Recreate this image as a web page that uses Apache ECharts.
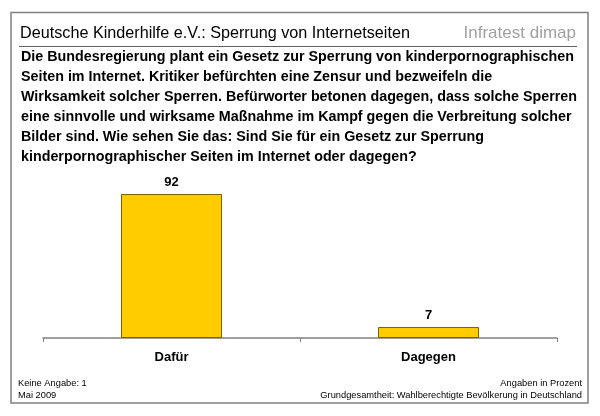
<!DOCTYPE html>
<html><head><meta charset="utf-8">
<script src="https://cdn.jsdelivr.net/npm/echarts@6/dist/echarts.min.js"></script>
<style>html,body{margin:0;padding:0;background:#fff}#c{width:600px;height:416px}</style>
</head><body><div id="c"></div>
<script>
const categories = ['Dafür', 'Dagegen'];
const values = [92, 7];
const title = 'Deutsche Kinderhilfe e.V.: Sperrung von Internetseiten';
const brand = 'Infratest dimap';
const questionLines = [
  'Die Bundesregierung plant ein Gesetz zur Sperrung von kinderpornographischen',
  'Seiten im Internet. Kritiker befürchten eine Zensur und bezweifeln die',
  'Wirksamkeit solcher Sperren. Befürworter betonen dagegen, dass solche Sperren',
  'eine sinnvolle und wirksame Maßnahme im Kampf gegen die Verbreitung solcher',
  'Bilder sind. Wie sehen Sie das: Sind Sie für ein Gesetz zur Sperrung',
  'kinderpornographischer Seiten im Internet oder dagegen?'
];
const footLeft = ['Keine Angabe: 1', 'Mai 2009'];
const footRight = ['Angaben in Prozent', 'Grundgesamtheit: Wahlberechtigte Bevölkerung in Deutschland'];

const chart = echarts.init(document.getElementById('c'), null, {renderer: 'canvas'});
const font = 'Arial, "Liberation Sans", sans-serif';
const graphics = [
  {type: 'rect', shape: {x: 11, y: 12.5, width: 577, height: 390.5}, style: {fill: 'none', stroke: '#808080', lineWidth: 1.5}, z: 10},
  {type: 'text', left: 20, top: 26, style: {text: title, font: '16.2px ' + font, fill: '#000'}},
  {type: 'text', right: 24, top: 25, style: {text: brand, font: '17px "Liberation Sans Narrow", "Arial Narrow", sans-serif', fill: '#a0a0a0'}},
  {type: 'line', shape: {x1: 19, y1: 46.5, x2: 577, y2: 46.5}, style: {stroke: '#606060', lineWidth: 1}},
];
questionLines.forEach((t, i) => graphics.push({type: 'text', left: 21, top: 50 + i * 20, style: {text: t, font: 'bold 14.3px ' + font, fill: '#000'}}));
footLeft.forEach((t, i) => graphics.push({type: 'text', left: 18, top: 379 + i * 12, style: {text: t, font: '9.3px ' + font, fill: '#000'}}));
footRight.forEach((t, i) => graphics.push({type: 'text', right: 18, top: 379 + i * 12, style: {text: t, font: '9.3px ' + font, fill: '#000', align: 'right'}}));

chart.setOption({
  animation: false,
  grid: {left: 43, right: 43, top: 181.5, bottom: 78},
  xAxis: {
    type: 'category', data: categories,
    axisLine: {lineStyle: {color: '#808080', width: 1.5}},
    axisTick: {show: true, length: 4, lineStyle: {color: '#808080'}},
    axisLabel: {color: '#000', fontWeight: 'bold', fontSize: 13, fontFamily: font, margin: 13}
  },
  yAxis: {type: 'value', min: 0, max: 100, show: false, splitLine: {show: false}},
  series: [{
    type: 'bar', data: values, barWidth: 101,
    itemStyle: {color: '#FFCC00', borderColor: '#7a6000', borderWidth: 1},
    label: {show: true, position: 'top', distance: 5, color: '#000', fontWeight: 'bold', fontSize: 13, fontFamily: font}
  }],
  graphic: graphics
});
</script></body></html>
